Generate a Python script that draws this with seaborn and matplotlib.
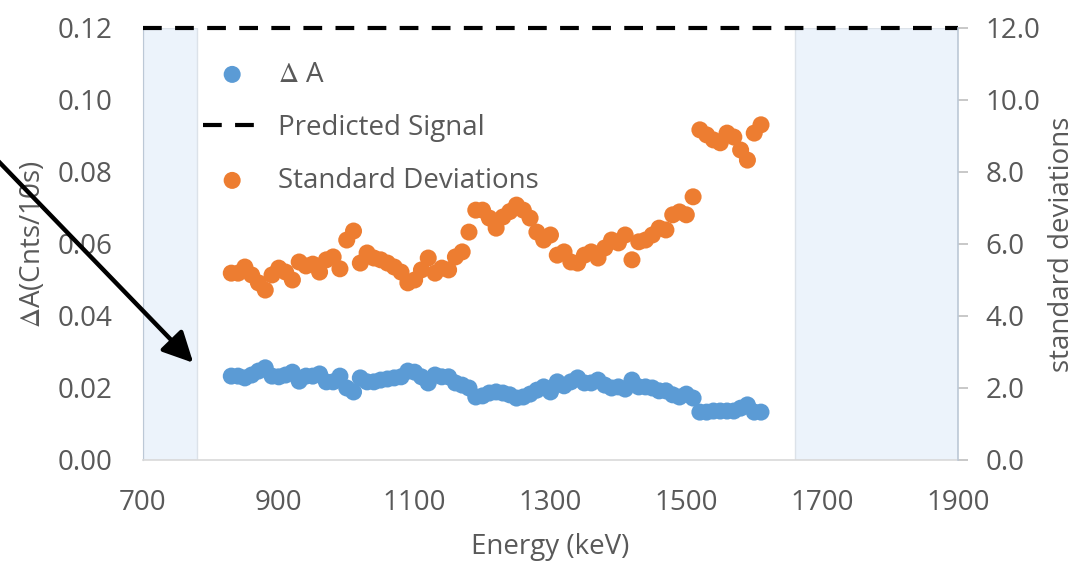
import matplotlib
matplotlib.use("Agg")
import matplotlib.pyplot as plt
import pandas as pd
import seaborn as sns

energy_kev = [830, 840, 850, 860, 870, 880, 890, 900, 910, 920,
              930, 940, 950, 960, 970, 980, 990, 1000, 1010, 1020,
              1030, 1040, 1050, 1060, 1070, 1080, 1090, 1100, 1110, 1120,
              1130, 1140, 1150, 1160, 1170, 1180, 1190, 1200, 1210, 1220,
              1230, 1240, 1250, 1260, 1270, 1280, 1290, 1300, 1310, 1320,
              1330, 1340, 1350, 1360, 1370, 1380, 1390, 1400, 1410, 1420,
              1430, 1440, 1450, 1460, 1470, 1480, 1490, 1500, 1510, 1520,
              1530, 1540, 1550, 1560, 1570, 1580, 1590, 1600, 1610]

delta_a = [0.0233, 0.0233, 0.0228, 0.0236, 0.0247, 0.0256, 0.0233, 0.0231, 0.0236, 0.0244,
           0.0219, 0.0233, 0.0233, 0.0239, 0.0217, 0.0217, 0.0233, 0.0200, 0.0189, 0.0228,
           0.0217, 0.0217, 0.0222, 0.0225, 0.0228, 0.0231, 0.0247, 0.0244, 0.0231, 0.0214,
           0.0236, 0.0231, 0.0231, 0.0214, 0.0208, 0.0200, 0.0175, 0.0178, 0.0186, 0.0189,
           0.0186, 0.0181, 0.0172, 0.0175, 0.0183, 0.0194, 0.0203, 0.0189, 0.0217, 0.0206,
           0.0217, 0.0228, 0.0214, 0.0214, 0.0222, 0.0208, 0.0200, 0.0203, 0.0197, 0.0222,
           0.0203, 0.0203, 0.0200, 0.0192, 0.0192, 0.0181, 0.0175, 0.0183, 0.0172, 0.0133,
           0.0133, 0.0136, 0.0136, 0.0136, 0.0136, 0.0144, 0.0153, 0.0133, 0.0133]

std_devs = [5.19, 5.19, 5.36, 5.14, 4.92, 4.72, 5.14, 5.33, 5.22, 5.00,
            5.50, 5.39, 5.44, 5.22, 5.56, 5.64, 5.31, 6.11, 6.36, 5.47,
            5.75, 5.61, 5.56, 5.47, 5.36, 5.22, 4.92, 5.00, 5.28, 5.61,
            5.19, 5.33, 5.28, 5.64, 5.78, 6.33, 6.94, 6.94, 6.72, 6.44,
            6.75, 6.90, 7.08, 6.94, 6.72, 6.33, 6.11, 6.25, 5.69, 5.78,
            5.50, 5.47, 5.69, 5.78, 5.61, 5.89, 6.11, 6.03, 6.25, 5.56,
            6.06, 6.11, 6.25, 6.44, 6.39, 6.81, 6.89, 6.81, 7.31, 9.17,
            9.03, 8.89, 8.81, 9.08, 8.97, 8.61, 8.33, 9.08, 9.31]

predicted_energy = [700, 1900]
predicted_signal = [0.12, 0.12]

# energy windows shaded on both sides
shaded_windows = [(700, 780), (1660, 1900)]

# arrow points at the first data region
arrow_tip = (774, 0.027)

x_ticks = [700, 900, 1100, 1300, 1500, 1700, 1900]
left_ticks = [0.00, 0.02, 0.04, 0.06, 0.08, 0.10, 0.12]
right_ticks = [0.0, 2.0, 4.0, 6.0, 8.0, 10.0, 12.0]

sns.set_style("white")
plt.rcParams["font.family"] = ["Open Sans", "DejaVu Sans"]
plt.rcParams["mathtext.fontset"] = "stix"

text_grey = "#595959"
blue = "#5B9BD5"
orange = "#ED7D31"

df = pd.DataFrame({"energy": energy_kev, "delta_a": delta_a, "std": std_devs})

fig = plt.figure(figsize=(10.8, 5.64), dpi=100)
ax = fig.add_axes([0.1324, 0.1844, 0.7546, 0.766])
ax2 = ax.twinx()

for lo, hi in shaded_windows:
    ax.axvspan(lo, hi, facecolor="#ECF3FB", edgecolor="#DCE2E9", lw=1.0, zorder=0)

sns.scatterplot(data=df, x="energy", y="delta_a", ax=ax, color=blue, s=150,
                edgecolor="none", label=r"$\Delta$ A", zorder=3)
pred_line, = ax.plot(predicted_energy, predicted_signal, color="black", lw=3,
                     linestyle=(0, (4.5, 3.2)), clip_on=False, zorder=5,
                     label="Predicted Signal")
sns.scatterplot(data=df, x="energy", y="std", ax=ax2, color=orange, s=150,
                edgecolor="none", label="Standard Deviations", zorder=3)

for a in (ax, ax2):
    if a.get_legend() is not None:
        a.get_legend().remove()

ax.set_xlim(700, 1900)
ax.set_ylim(0, 0.12)
ax2.set_ylim(0, 12)
ax.set_xticks(x_ticks)
ax.set_yticks(left_ticks)
ax2.set_yticks(right_ticks)
ax.set_yticklabels([f"{v:.2f}" for v in left_ticks])
ax2.set_yticklabels([f"{v:.1f}" for v in right_ticks])

for a in (ax, ax2):
    for s in a.spines.values():
        s.set_visible(False)
ax.spines["bottom"].set_visible(True)
ax.spines["bottom"].set_color("#D9D9D9")
ax.spines["bottom"].set_linewidth(1.2)
ax.spines["left"].set_visible(True)
ax.spines["left"].set_color("#BCC8D6")
ax2.spines["right"].set_visible(True)
ax2.spines["right"].set_color("#BCC8D6")
ax2.spines["right"].set_linewidth(1.2)

ax.tick_params(axis="x", length=6, width=1.2, color="#D9D9D9", pad=15,
               labelsize=20, labelcolor=text_grey)
ax.tick_params(axis="y", length=0, pad=22, labelsize=20, labelcolor=text_grey)
ax2.tick_params(axis="y", length=7, width=1.2, color="#BFBFBF", pad=13,
                labelsize=20, labelcolor=text_grey)

ax.set_xlabel("Energy (keV)", fontsize=20, color=text_grey)
ax.xaxis.set_label_coords(0.5, -0.17)
ax.set_ylabel(r"$\Delta$A(Cnts/10s)", fontsize=20, color=text_grey)
ax.yaxis.set_label_coords(-0.118, 0.5)
ax2.set_ylabel("standard deviations", fontsize=20, color=text_grey)
ax2.yaxis.set_label_coords(1.11, 0.5)

handles = [ax.collections[-1], pred_line, ax2.collections[-1]]
labels = [r"$\Delta$ A", "Predicted Signal", "Standard Deviations"]
leg = ax2.legend(handles, labels, loc="upper left", bbox_to_anchor=(0.06, 0.95),
                 frameon=False, fontsize=20, labelspacing=0.9, handlelength=2.1,
                 handletextpad=0.6, borderaxespad=0)
for t in leg.get_texts():
    t.set_color(text_grey)

ax2.annotate("", xy=arrow_tip, xycoords=ax.transData,
             xytext=(-0.009, 0.729), textcoords="figure fraction",
             arrowprops=dict(arrowstyle="-|>", color="black", lw=3.2,
                             mutation_scale=46, shrinkA=0, shrinkB=0),
             annotation_clip=False, zorder=6)

fig.savefig("out.png", dpi=100)
